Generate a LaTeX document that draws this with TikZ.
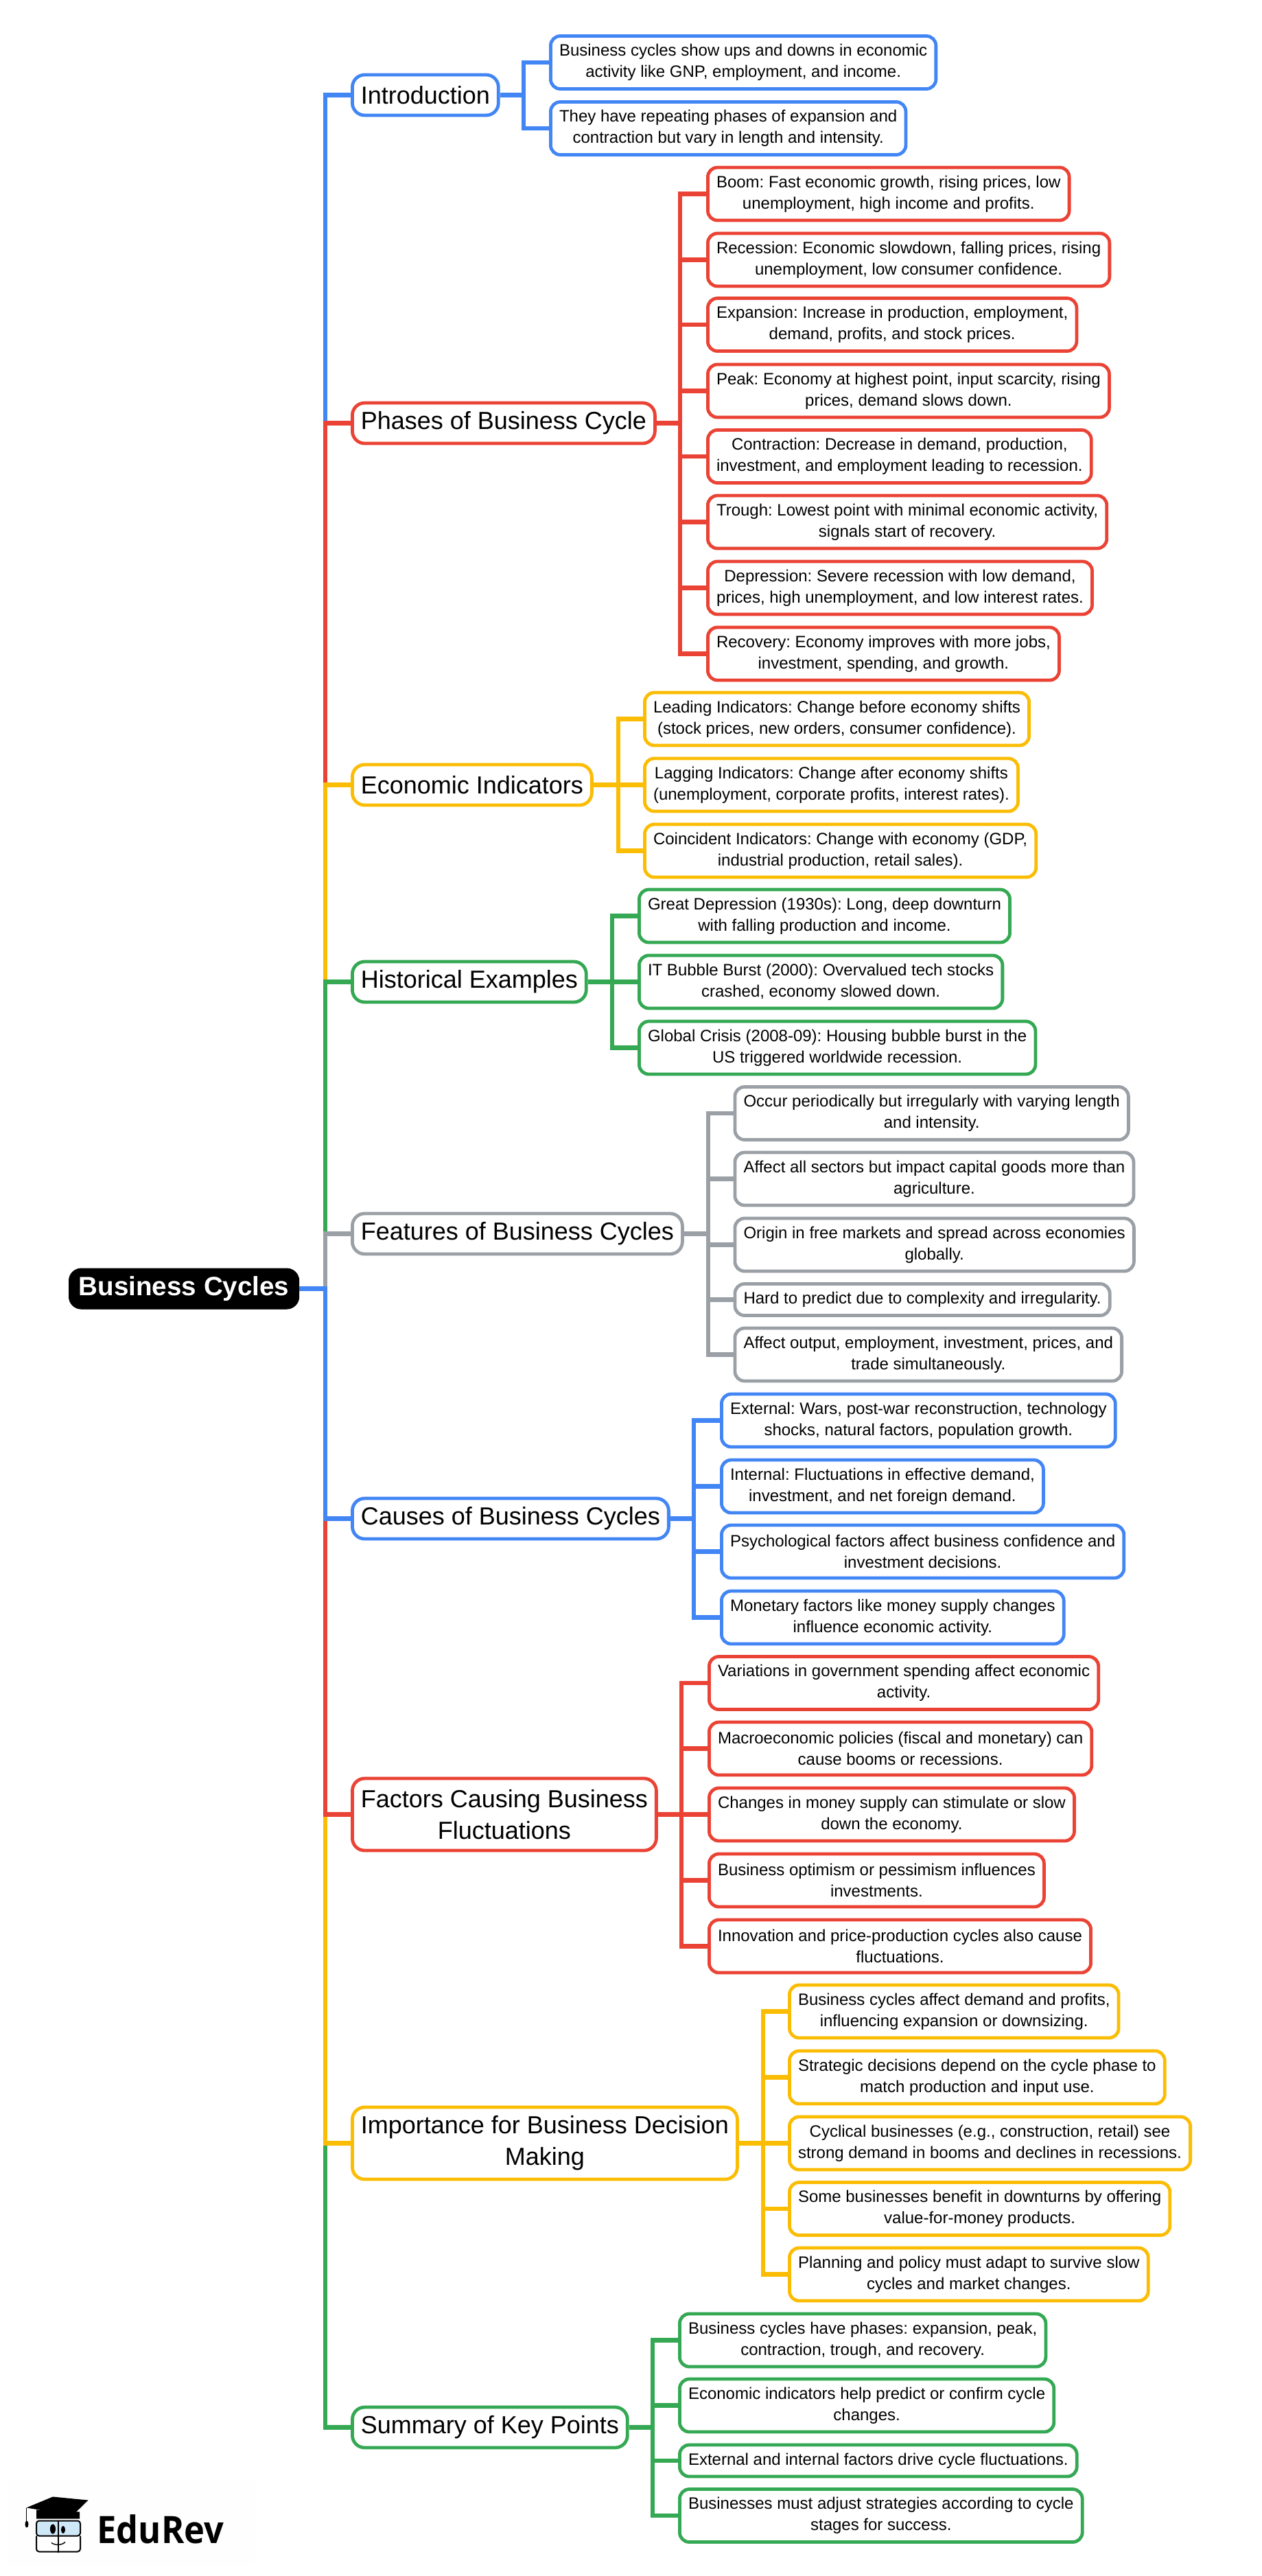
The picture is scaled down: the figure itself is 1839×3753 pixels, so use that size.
\documentclass[tikz,border=0pt]{standalone}
\usepackage{fontspec}
\setmainfont{Liberation Sans}
\newfontfamily\logofont[FakeStretch=0.92]{Open Sans}
\definecolor{gblue}{HTML}{4285F4}
\definecolor{gred}{HTML}{EA4335}
\definecolor{gyellow}{HTML}{FBBC04}
\definecolor{ggreen}{HTML}{34A853}
\definecolor{ggrey}{HTML}{9AA0A6}
\definecolor{logosky}{HTML}{CFE8F8}
\frenchspacing

\begin{document}
\begin{tikzpicture}[x=0.5pt, y=-0.5pt,
  link/.style={line width=3.1pt},
  rootbox/.style={fill=black, draw=black, line width=0.5pt, text=white, rounded corners=9pt, anchor=west,
    font=\fontsize{19.3}{23}\selectfont\bfseries, inner xsep=7.1pt, inner ysep=0pt, minimum height=29.5pt},
  topic/.style={draw=#1, fill=white, line width=2.4pt, rounded corners=9pt, anchor=west, align=center,
    font=\fontsize{18}{23}\selectfont, inner xsep=6.2pt, inner ysep=0pt, minimum height=29.5pt},
  leaf/.style={draw=#1, fill=white, line width=2.4pt, rounded corners=7pt, anchor=west, align=center,
    font=\fontsize{12}{15.5}\selectfont, inner xsep=6.3pt, inner ysep=0pt, minimum height=38.5pt},
]

\useasboundingbox (1,-1.5) rectangle (1840,3751.5);

\node[rootbox] (root) at (101,1876) {Business Cycles};
\coordinate (trunk) at (475,1876);

\node[topic=gblue] (intro) at (512,137) {Introduction};
\node[topic=gred] (phases) at (512,615) {Phases of Business Cycle};
\node[topic=gyellow] (indic) at (512,1142) {Economic Indicators};
\node[topic=ggreen] (hist) at (512,1429) {Historical Examples};
\node[topic=ggrey] (feat) at (512,1796) {Features of Business Cycles};
\node[topic=gblue] (cause) at (512,2211) {Causes of Business Cycles};
\node[topic=gred, minimum height=52.5pt] (factor) at (512,2642) {Factors Causing Business\\Fluctuations};
\node[topic=gyellow, minimum height=52.5pt] (decide) at (512,3121) {Importance for Business Decision\\Making};
\node[topic=ggreen] (summ) at (512,3535) {Summary of Key Points};

\draw[link,gblue] (root.east) -- (trunk) |- (intro.west);
\draw[link,gred] (root.east) -- (trunk) |- (phases.west);
\draw[link,gyellow] (root.east) -- (trunk) |- (indic.west);
\draw[link,ggreen] (root.east) -- (trunk) |- (hist.west);
\draw[link,ggrey] (root.east) -- (trunk) |- (feat.west);
\draw[link,ggreen] (root.east) -- (trunk) |- (summ.west);
\draw[link,gyellow] (root.east) -- (trunk) |- (decide.west);
\draw[link,gred] (root.east) -- (trunk) |- (factor.west);
\draw[link,gblue] (root.east) -- (trunk) |- (cause.west);

\node[leaf=gblue] (intro1) at (801,89.5) {Business cycles show ups and downs in economic\\activity like GNP, employment, and income.};
\node[leaf=gblue] (intro2) at (801,185.5) {They have repeating phases of expansion and\\contraction but vary in length and intensity.};
\coordinate (introbar) at (764,137);
\draw[link,gblue] (intro.east) -- (introbar) |- (intro1.west);
\draw[link,gblue] (intro.east) -- (introbar) |- (intro2.west);

\node[leaf=gred] (ph1) at (1030,281) {Boom: Fast economic growth, rising prices, low\\unemployment, high income and profits.};
\node[leaf=gred] (ph2) at (1030,377) {Recession: Economic slowdown, falling prices, rising\\unemployment, low consumer confidence.};
\node[leaf=gred] (ph3) at (1030,471.5) {Expansion: Increase in production, employment,\\demand, profits, and stock prices.};
\node[leaf=gred] (ph4) at (1030,568) {Peak: Economy at highest point, input scarcity, rising\\prices, demand slows down.};
\node[leaf=gred] (ph5) at (1030,663.5) {Contraction: Decrease in demand, production,\\investment, and employment leading to recession.};
\node[leaf=gred] (ph6) at (1030,759) {Trough: Lowest point with minimal economic activity,\\signals start of recovery.};
\node[leaf=gred] (ph7) at (1030,855) {Depression: Severe recession with low demand,\\prices, high unemployment, and low interest rates.};
\node[leaf=gred] (ph8) at (1030,951) {Recovery: Economy improves with more jobs,\\investment, spending, and growth.};
\coordinate (phbar) at (992,615);
\draw[link,gred] (phases.east) -- (phbar) |- (ph1.west);
\draw[link,gred] (phases.east) -- (phbar) |- (ph2.west);
\draw[link,gred] (phases.east) -- (phbar) |- (ph3.west);
\draw[link,gred] (phases.east) -- (phbar) |- (ph4.west);
\draw[link,gred] (phases.east) -- (phbar) |- (ph5.west);
\draw[link,gred] (phases.east) -- (phbar) |- (ph6.west);
\draw[link,gred] (phases.east) -- (phbar) |- (ph7.west);
\draw[link,gred] (phases.east) -- (phbar) |- (ph8.west);

\node[leaf=gyellow] (ind1) at (938,1046) {Leading Indicators: Change before economy shifts\\(stock prices, new orders, consumer confidence).};
\node[leaf=gyellow] (ind2) at (938,1142) {Lagging Indicators: Change after economy shifts\\(unemployment, corporate profits, interest rates).};
\node[leaf=gyellow] (ind3) at (938,1238) {Coincident Indicators: Change with economy (GDP,\\industrial production, retail sales).};
\coordinate (indbar) at (902,1142);
\draw[link,gyellow] (indic.east) -- (indbar) |- (ind1.west);
\draw[link,gyellow] (indic.east) -- (ind2.west);
\draw[link,gyellow] (indic.east) -- (indbar) |- (ind3.west);

\node[leaf=ggreen] (his1) at (930,1333) {Great Depression (1930s): Long, deep downturn\\with falling production and income.};
\node[leaf=ggreen] (his2) at (930,1429) {IT Bubble Burst (2000): Overvalued tech stocks\\crashed, economy slowed down.};
\node[leaf=ggreen] (his3) at (930,1525) {Global Crisis (2008-09): Housing bubble burst in the\\US triggered worldwide recession.};
\coordinate (hisbar) at (893,1429);
\draw[link,ggreen] (hist.east) -- (hisbar) |- (his1.west);
\draw[link,ggreen] (hist.east) -- (his2.west);
\draw[link,ggreen] (hist.east) -- (hisbar) |- (his3.west);

\node[leaf=ggrey] (fea1) at (1069.5,1620.5) {Occur periodically but irregularly with varying length\\and intensity.};
\node[leaf=ggrey] (fea2) at (1069.5,1716) {Affect all sectors but impact capital goods more than\\agriculture.};
\node[leaf=ggrey] (fea3) at (1069.5,1812) {Origin in free markets and spread across economies\\globally.};
\node[leaf=ggrey, minimum height=23pt] (fea4) at (1069.5,1892) {Hard to predict due to complexity and irregularity.};
\node[leaf=ggrey] (fea5) at (1069.5,1972) {Affect output, employment, investment, prices, and\\trade simultaneously.};
\coordinate (feabar) at (1033,1796);
\draw[link,ggrey] (feat.east) -- (feabar) |- (fea1.west);
\draw[link,ggrey] (feat.east) -- (feabar) |- (fea2.west);
\draw[link,ggrey] (feat.east) -- (feabar) |- (fea3.west);
\draw[link,ggrey] (feat.east) -- (feabar) |- (fea4.west);
\draw[link,ggrey] (feat.east) -- (feabar) |- (fea5.west);

\node[leaf=gblue] (cau1) at (1050,2068) {External: Wars, post-war reconstruction, technology\\shocks, natural factors, population growth.};
\node[leaf=gblue] (cau2) at (1050,2164) {Internal: Fluctuations in effective demand,\\investment, and net foreign demand.};
\node[leaf=gblue] (cau3) at (1050,2259) {Psychological factors affect business confidence and\\investment decisions.};
\node[leaf=gblue] (cau4) at (1050,2355) {Monetary factors like money supply changes\\influence economic activity.};
\coordinate (caubar) at (1012,2211);
\draw[link,gblue] (cause.east) -- (caubar) |- (cau1.west);
\draw[link,gblue] (cause.east) -- (caubar) |- (cau2.west);
\draw[link,gblue] (cause.east) -- (caubar) |- (cau3.west);
\draw[link,gblue] (cause.east) -- (caubar) |- (cau4.west);

\node[leaf=gred] (fac1) at (1032,2450.5) {Variations in government spending affect economic\\activity.};
\node[leaf=gred] (fac2) at (1032,2546) {Macroeconomic policies (fiscal and monetary) can\\cause booms or recessions.};
\node[leaf=gred] (fac3) at (1032,2642) {Changes in money supply can stimulate or slow\\down the economy.};
\node[leaf=gred] (fac4) at (1032,2738) {Business optimism or pessimism influences\\investments.};
\node[leaf=gred] (fac5) at (1032,2834) {Innovation and price-production cycles also cause\\fluctuations.};
\coordinate (facbar) at (994,2642);
\draw[link,gred] (factor.east) -- (facbar) |- (fac1.west);
\draw[link,gred] (factor.east) -- (facbar) |- (fac2.west);
\draw[link,gred] (factor.east) -- (fac3.west);
\draw[link,gred] (factor.east) -- (facbar) |- (fac4.west);
\draw[link,gred] (factor.east) -- (facbar) |- (fac5.west);

\node[leaf=gyellow] (dec1) at (1149,2929) {Business cycles affect demand and profits,\\influencing expansion or downsizing.};
\node[leaf=gyellow] (dec2) at (1149,3025) {Strategic decisions depend on the cycle phase to\\match production and input use.};
\node[leaf=gyellow] (dec3) at (1149,3121) {Cyclical businesses (e.g., construction, retail) see\\strong demand in booms and declines in recessions.};
\node[leaf=gyellow] (dec4) at (1149,3216.5) {Some businesses benefit in downturns by offering\\value-for-money products.};
\node[leaf=gyellow] (dec5) at (1149,3312) {Planning and policy must adapt to survive slow\\cycles and market changes.};
\coordinate (decbar) at (1113,3121);
\draw[link,gyellow] (decide.east) -- (decbar) |- (dec1.west);
\draw[link,gyellow] (decide.east) -- (decbar) |- (dec2.west);
\draw[link,gyellow] (decide.east) -- (dec3.west);
\draw[link,gyellow] (decide.east) -- (decbar) |- (dec4.west);
\draw[link,gyellow] (decide.east) -- (decbar) |- (dec5.west);

\node[leaf=ggreen] (sum1) at (989,3408) {Business cycles have phases: expansion, peak,\\contraction, trough, and recovery.};
\node[leaf=ggreen] (sum2) at (989,3503) {Economic indicators help predict or confirm cycle\\changes.};
\node[leaf=ggreen, minimum height=23pt] (sum3) at (989,3583.5) {External and internal factors drive cycle fluctuations.};
\node[leaf=ggreen] (sum4) at (989,3663.5) {Businesses must adjust strategies according to cycle\\stages for success.};
\coordinate (sumbar) at (952,3535);
\draw[link,ggreen] (summ.east) -- (sumbar) |- (sum1.west);
\draw[link,ggreen] (summ.east) -- (sumbar) |- (sum2.west);
\draw[link,ggreen] (summ.east) -- (sumbar) |- (sum3.west);
\draw[link,ggreen] (summ.east) -- (sumbar) |- (sum4.west);

\fill[black!0.5] (13,3613) rectangle (373,3737);
\fill[black] (54,3655) -- (54,3668) -- (117,3668) -- (117,3658) -- cycle;
\fill[black] (39.5,3652) -- (78,3636) -- (129.5,3641) -- (107,3663) -- cycle;
\draw[black, line width=0.5pt] (39.5,3652) -- (39.5,3672);
\fill[black] (40,3676) ellipse (2.5 and 5);
\draw[black, line width=1pt, fill=logosky, rounded corners=2pt] (54,3671) rectangle (118,3693);
\draw[black, line width=1pt, rounded corners=2pt] (54,3693) -- (54,3716) -- (118,3716) -- (118,3693);
\draw[black, line width=1pt] (86,3670) -- (86,3717);
\fill[black] (78,3683) ellipse (4 and 7);
\fill[black] (93,3684) ellipse (3 and 5.5);
\draw[black, line width=0.7pt] (76,3703) .. controls (81,3707) and (91,3707) .. (96,3702);
\node[anchor=west, inner sep=0pt, font=\fontsize{27.5}{30}\logofont\bfseries] (logo) at (142,3683) {EduRev};

\end{tikzpicture}
\end{document}
